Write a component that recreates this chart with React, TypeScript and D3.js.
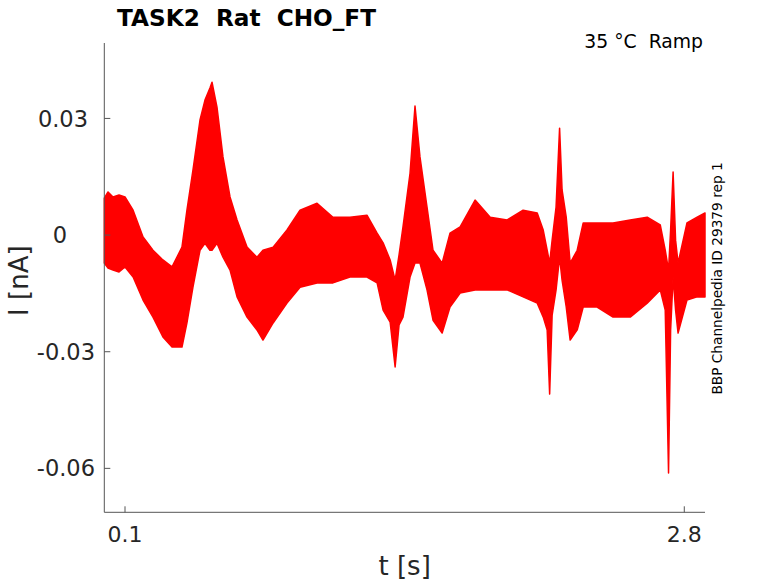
// App.tsx
import React, { useEffect, useRef } from 'react';
import * as d3 from 'd3';

// sweep envelope (time in s, current in nA)
const timeS = [
  0.0, 0.018, 0.042, 0.071, 0.1, 0.139, 0.187, 0.235, 0.283, 0.327,
  0.375, 0.399, 0.428, 0.462, 0.486, 0.51, 0.52, 0.544, 0.573, 0.607,
  0.641, 0.689, 0.737, 0.766, 0.815, 0.882, 0.945, 1.027, 1.104, 1.186,
  1.268, 1.317, 1.346, 1.38, 1.404, 1.423, 1.442, 1.476, 1.5, 1.524,
  1.558, 1.587, 1.631, 1.669, 1.718, 1.79, 1.863, 1.945, 2.022, 2.09,
  2.119, 2.138, 2.15, 2.162, 2.181, 2.198, 2.21, 2.23, 2.249, 2.283,
  2.312, 2.379, 2.456, 2.539, 2.621, 2.684, 2.708, 2.724, 2.734, 2.746,
  2.758, 2.77, 2.813, 2.862, 2.9,
];
const upperNA = [
  0.0095, 0.0111, 0.0098, 0.0103, 0.0098, 0.0064, -0.0005, -0.0039, -0.0064, -0.0082,
  -0.0031, 0.0064, 0.0167, 0.0296, 0.0347, 0.0378, 0.0393, 0.0329, 0.0201, 0.0098,
  0.0039, -0.0031, -0.0057, -0.0039, -0.0031, 0.0013, 0.0064, 0.0082, 0.0046, 0.0046,
  0.0051, 0.0005, -0.002, -0.0064, -0.0116, -0.0051, 0.0021, 0.0159, 0.0332, 0.0201,
  0.0072, -0.0039, -0.0072, 0.0005, 0.0021, 0.009, 0.0046, 0.0039, 0.0064, 0.0057,
  0.0013, -0.0039, -0.0072, -0.0013, 0.0072, 0.0275, 0.0116, 0.0046, -0.0072, -0.0039,
  0.0031, 0.0031, 0.0031, 0.0039, 0.0046, 0.0026, -0.0039, -0.009, 0.0013, 0.0162,
  -0.0013, -0.0072, 0.0031, 0.0046, 0.0057,
];
const lowerNA = [
  -0.0072, -0.0085, -0.009, -0.0095, -0.0082, -0.0108, -0.0167, -0.0211, -0.0262, -0.0288,
  -0.0288, -0.0226, -0.0134, -0.0039, -0.0021, -0.0039, -0.0039, -0.0021, -0.0057, -0.009,
  -0.0159, -0.0211, -0.0244, -0.027, -0.0226, -0.0175, -0.0134, -0.0123, -0.0123, -0.0108,
  -0.0108, -0.0123, -0.0193, -0.0224, -0.0339, -0.0231, -0.0211, -0.0108, -0.0072, -0.0072,
  -0.0141, -0.0219, -0.0252, -0.0185, -0.0149, -0.0141, -0.0141, -0.0141, -0.0159, -0.0175,
  -0.0211, -0.0244, -0.0409, -0.0206, -0.0141, -0.0057, -0.0116, -0.0185, -0.027, -0.0244,
  -0.0185, -0.0185, -0.0211, -0.0211, -0.0175, -0.0141, -0.0193, -0.0612, -0.0244, -0.0108,
  -0.0193, -0.0252, -0.0167, -0.0159, -0.0159,
];

const xTicks = [0.1, 2.8];
const yTicks = [-0.06, -0.03, 0, 0.03];

const W = 778;
const H = 583;
const FONT = "'DejaVu Sans', sans-serif";

const App: React.FC = () => {
  const svgRef = useRef<SVGSVGElement | null>(null);

  useEffect(() => {
    const svg = d3.select(svgRef.current);
    svg.selectAll('*').remove();

    const left = 104.3;
    const right = 705;
    const top = 43;
    const bottom = 512.3;

    const x = d3.scaleLinear().domain([0, 2.9]).range([left, right]);
    const y = d3.scaleLinear().domain([-0.0713, 0.0494]).range([bottom, top]);

    const rows = timeS.map((t, i) => ({ t, hi: upperNA[i], lo: lowerNA[i] }));

    // the overlaid sweeps as one red band
    const band = d3
      .area<{ t: number; hi: number; lo: number }>()
      .x((d) => x(d.t))
      .y0((d) => y(d.lo))
      .y1((d) => y(d.hi));

    svg.append('path')
      .datum(rows)
      .attr('fill', '#ff0000')
      .attr('stroke', '#ff0000')
      .attr('stroke-width', 1.5)
      .attr('stroke-linejoin', 'round')
      .attr('d', band);

    const axisColor = '#555555';
    const textColor = '#262626';

    // axis lines (box off)
    svg.append('line')
      .attr('x1', left).attr('x2', left)
      .attr('y1', top).attr('y2', bottom)
      .attr('stroke', axisColor);
    svg.append('line')
      .attr('x1', left).attr('x2', right)
      .attr('y1', bottom).attr('y2', bottom)
      .attr('stroke', axisColor);

    // x ticks
    const xt = svg.append('g');
    xt.selectAll('line')
      .data(xTicks)
      .join('line')
      .attr('x1', (d) => x(d)).attr('x2', (d) => x(d))
      .attr('y1', bottom).attr('y2', bottom - 6)
      .attr('stroke', axisColor);
    xt.selectAll('text')
      .data(xTicks)
      .join('text')
      .attr('x', (d) => x(d))
      .attr('y', 542)
      .attr('text-anchor', 'middle')
      .attr('font-family', FONT)
      .attr('font-size', 22)
      .attr('fill', textColor)
      .text((d) => String(d));

    // y ticks
    const yt = svg.append('g');
    yt.selectAll('line')
      .data(yTicks)
      .join('line')
      .attr('x1', left).attr('x2', left + 6)
      .attr('y1', (d) => y(d)).attr('y2', (d) => y(d))
      .attr('stroke', axisColor);
    yt.selectAll('text')
      .data(yTicks)
      .join('text')
      .attr('x', (d) => 60 + 7 * String(d).length)
      .attr('y', (d) => y(d))
      .attr('dy', '0.36em')
      .attr('text-anchor', 'end')
      .attr('font-family', FONT)
      .attr('font-size', 22.5)
      .attr('fill', textColor)
      .text((d) => String(d));

    // axis labels
    svg.append('text')
      .attr('x', (left + right) / 2)
      .attr('y', 575)
      .attr('text-anchor', 'middle')
      .attr('font-family', FONT)
      .attr('font-size', 26)
      .attr('fill', textColor)
      .text('t [s]');

    svg.append('text')
      .attr('transform', `translate(28,${(top + bottom) / 2 + 3}) rotate(-90)`)
      .attr('text-anchor', 'middle')
      .attr('font-family', FONT)
      .attr('font-size', 26)
      .attr('fill', textColor)
      .text('I [nA]');

    // title and annotations
    svg.append('text')
      .attr('x', 117)
      .attr('y', 26)
      .attr('font-family', FONT)
      .attr('font-weight', 'bold')
      .attr('font-size', 23.2)
      .attr('fill', '#000')
      .style('white-space', 'pre')
      .text('TASK2  Rat  CHO_FT');

    svg.append('text')
      .attr('x', 703)
      .attr('y', 48)
      .attr('text-anchor', 'end')
      .attr('font-family', FONT)
      .attr('font-size', 18.8)
      .attr('fill', '#000')
      .style('white-space', 'pre')
      .text('35 °C  Ramp');

    svg.append('text')
      .attr('transform', 'translate(722,278.5) rotate(-90)')
      .attr('text-anchor', 'middle')
      .attr('font-family', FONT)
      .attr('font-size', 13.7)
      .attr('fill', '#000')
      .text('BBP Channelpedia ID 29379 rep 1');
  }, []);

  return (
    <svg
      ref={svgRef}
      width={W}
      height={H}
      style={{ position: 'absolute', left: 0, top: 0, background: '#fff' }}
    ></svg>
  );
};

export default App;
